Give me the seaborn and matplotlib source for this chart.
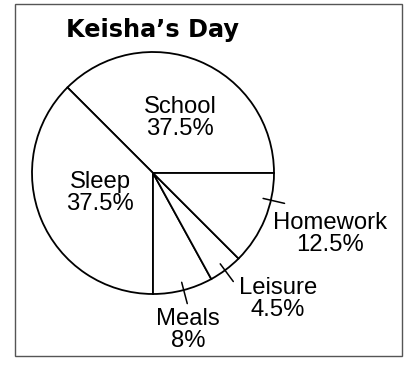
import numpy as np
import matplotlib
matplotlib.use("Agg")
import matplotlib.pyplot as plt
import seaborn as sns
from matplotlib.patches import Rectangle

# data
categories = ["School", "Sleep", "Meals", "Leisure", "Homework"]
shares = [37.5, 37.5, 8, 4.5, 12.5]
pct_labels = ["37.5%", "37.5%", "8%", "4.5%", "12.5%"]

sns.set_theme(style="white")
plt.rcParams['font.family'] = ['Liberation Sans', 'DejaVu Sans']
plt.rcParams['text.color'] = 'black'

fig = plt.figure(figsize=(4.06, 3.66), dpi=100)
ax = fig.add_axes([0, 0, 1, 1])

# pie (y axis is inverted, so go clockwise to keep counterclockwise on screen)
cx, cy, r = 153, 173, 121
ax.pie(shares, startangle=0, counterclock=False, radius=r, center=(cx, cy),
       colors=["white"] * len(shares),
       wedgeprops=dict(edgecolor="black", linewidth=1.3), frame=True)
ax.set_xlim(0, 406)
ax.set_ylim(366, 0)
ax.set_axis_off()

# label positions (pixel centres) and small leader ticks
label_pos = {"School": (180, 118), "Sleep": (100, 193), "Homework": (330, 234),
             "Leisure": (278, 299), "Meals": (188, 330)}
tick_angles = {"Homework": -13, "Leisure": -53.5, "Meals": -75.3}

for cat, pct in zip(categories, pct_labels):
    x, y = label_pos[cat]
    ax.text(x, y, f"{cat}\n{pct}", ha="center", va="center",
            multialignment="center", fontsize=17.2, linespacing=0.95)
    if cat in tick_angles:
        a = np.deg2rad(tick_angles[cat])
        ax.plot([cx + 113 * np.cos(a), cx + 135 * np.cos(a)],
                [cy - 113 * np.sin(a), cy - 135 * np.sin(a)],
                color="black", lw=1.1)

ax.text(66, 30, "Keisha\u2019s Day", ha="left", va="center",
        fontsize=17.3, fontweight="heavy", family=["DejaVu Sans"])

ax.add_patch(Rectangle((15, 4), 387, 352, fill=False, edgecolor="#555555", lw=1))

fig.savefig("out.png", dpi=100)
